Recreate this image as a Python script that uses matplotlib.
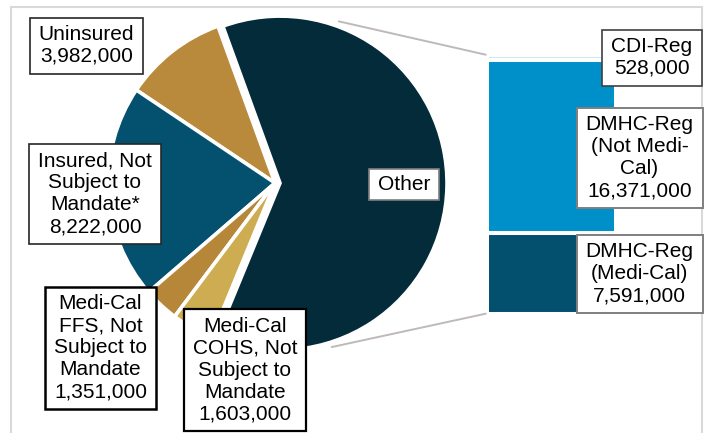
import matplotlib
matplotlib.use("Agg")
import matplotlib.pyplot as plt
import numpy as np
from matplotlib.patches import ConnectionPatch, Rectangle
from matplotlib.transforms import IdentityTransform

plt.rcParams['font.family'] = ['Liberation Sans', 'DejaVu Sans']

# pie slices, counter-clockwise from the top boundary; "Other" is split in the bar
pie_labels = ["Uninsured", "Insured, Not\nSubject to\nMandate*",
              "Medi-Cal\nFFS, Not\nSubject to\nMandate",
              "Medi-Cal\nCOHS, Not\nSubject to\nMandate", "Other"]
pie_values = [3982000, 8222000, 1351000, 1603000]
pie_colors = ["#B98A3C", "#03516F", "#B68639", "#CDAC52", "#042B3A"]

# bar segments, bottom to top
bar_labels = ["DMHC-Reg\n(Medi-Cal)", "DMHC-Reg\n(Not Medi-\nCal)", "CDI-Reg"]
bar_values = [7591000, 16371000, 528000]
bar_colors = ["#03506E", "#0090C9", "#CFE8F6"]

other_total = sum(bar_values)
all_pie = pie_values + [other_total]

W, H = 704, 433
fig = plt.figure(figsize=(W / 100, H / 100), dpi=100)

def px(x, y, w=0, h=0):
    """top-down pixel box -> figure fraction rect"""
    return [x / W, 1 - (y + h) / H, w / W, h / H]

# pie axes: centre (275,183) px, radius 167 px
cx, cy, r = 275, 183, 167
k = 1.15
side = 2 * k * r
ax_pie = fig.add_axes(px(cx - side / 2, cy - side / 2, side, side))
explode = [0, 0, 0, 0, 0.03]
ax_pie.pie(all_pie, colors=pie_colors, startangle=110, counterclock=True,
           explode=explode, radius=1,
           wedgeprops=dict(edgecolor="white", linewidth=2.6))
ax_pie.set_xlim(-k, k)
ax_pie.set_ylim(-k, k)
ax_pie.set_aspect("equal")
ax_pie.axis("off")

# bar axes
ax_bar = fig.add_axes(px(487, 54.7, 129.3, 259))
bottom = 0
for val, col in zip(bar_values, bar_colors):
    ax_bar.bar(0, val, width=1, bottom=bottom, align="edge", color=col,
               edgecolor="white", linewidth=2.9)
    bottom += val
ax_bar.set_xlim(0, 1)
ax_bar.set_ylim(0, other_total)
ax_bar.axis("off")

# connector lines
for ang, ybar in [(70, other_total), (-72.5, 0)]:
    t = np.deg2rad(ang)
    con = ConnectionPatch(xyA=(explode[-1] + 1.03 * np.cos(t), 1.03 * np.sin(t)),
                          coordsA=ax_pie.transData,
                          xyB=(-0.01, ybar), coordsB=ax_bar.transData,
                          color="#BFB9B9", linewidth=1.4)
    fig.add_artist(con)

# grey outer frame
fig.add_artist(Rectangle((11 / W, -0.05), 691 / W, 1 - 7 / H + 0.05,
                         transform=fig.transFigure, fill=False,
                         edgecolor="#D9D9D9", linewidth=1.5, zorder=1))

def fmt(v):
    return f"{v:,}"

# label boxes: text, centre px, edge colour, edge width
labels = [
    (pie_labels[0] + "\n" + fmt(pie_values[0]), (86.5, 45.5), "#262626", 1.2),
    (pie_labels[1] + "\n" + fmt(pie_values[1]), (95, 194), "#262626", 1.2),
    (pie_labels[2] + "\n" + fmt(pie_values[2]), (100.5, 347.5), "#000000", 1.8),
    (pie_labels[3] + "\n" + fmt(pie_values[3]), (245, 370), "#000000", 1.6),
    (pie_labels[4], (404, 184), "#7F7F7F", 1.2),
    (bar_labels[2] + "\n" + fmt(bar_values[2]), (652, 57.5), "#404040", 1.2),
    (bar_labels[1] + "\n" + fmt(bar_values[1]), (639.5, 158), "#7F7F7F", 1.4),
    (bar_labels[0] + "\n" + fmt(bar_values[0]), (639.5, 273.5), "#7F7F7F", 1.4),
]

texts = []
for txt, (x, y), ec, lw in labels:
    t = fig.text(x / W, 1 - y / H, txt, ha="center", va="center",
                 fontsize=15, linespacing=1.2, color="black", zorder=6)
    texts.append((t, ec, lw))

fig.canvas.draw()
renderer = fig.canvas.get_renderer()
padx = 9
for t, ec, lw in texts:
    bb = t.get_window_extent(renderer)
    pady = 6 if "\n" not in t.get_text() else 7.5
    fig.add_artist(Rectangle((bb.x0 - padx, bb.y0 - pady),
                             bb.width + 2 * padx, bb.height + 2 * pady,
                             transform=IdentityTransform(), facecolor="white",
                             edgecolor=ec, linewidth=lw, zorder=5))

fig.savefig("out.png", dpi=100)
